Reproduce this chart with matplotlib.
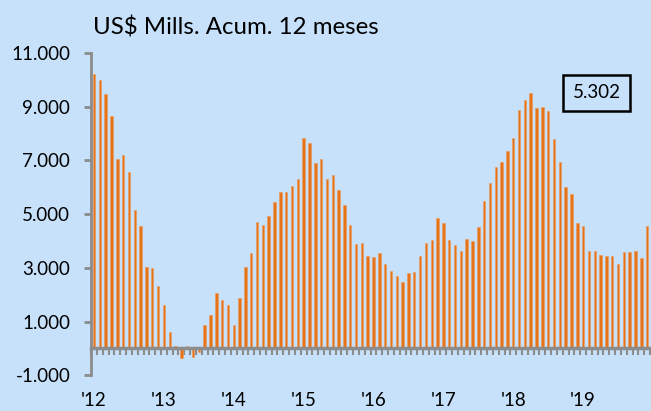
import matplotlib.pyplot as plt
import numpy as np

# monthly values, US$ millions, 12-month rolling sum (Jan 2012 - Dec 2019)
values = [10230, 9980, 9490, 8640, 7050, 7200, 6560, 5140, 4540, 3040, 2990, 2320,
          1630, 620, 100, -360, 100, -330, -150, 870, 1250, 2060, 1790, 1630,
          870, 1890, 3040, 3550, 4690, 4600, 4940, 5460, 5810, 5820, 6060, 6320,
          7850, 7660, 6900, 7070, 6320, 6460, 5900, 5340, 4610, 3900, 3920, 3450,
          3390, 3560, 3130, 2880, 2710, 2480, 2790, 2860, 3450, 3940, 4040, 4870,
          4680, 4050, 3860, 3640, 4070, 4000, 4520, 5500, 6150, 6740, 6960, 7360,
          7850, 8890, 9260, 9500, 8950, 8980, 8830, 7810, 6960, 6020, 5760, 4670,
          4570, 3630, 3630, 3460, 3430, 3440, 3130, 3600, 3600, 3610, 3370, 4570]
years = ["'12", "'13", "'14", "'15", "'16", "'17", "'18", "'19"]
yticks = [-1000, 1000, 3000, 5000, 7000, 9000, 11000]
last_label = "5.302"

bg = '#C7E1FB'
orange = '#E5731A'
gray = '#8C8C8C'
plt.rcParams['font.family'] = ['Lato', 'DejaVu Sans']

fig = plt.figure(figsize=(6.51, 4.11), dpi=100, facecolor=bg)
ax = fig.add_axes([0.140, 0.087, 0.860, 0.784], facecolor=bg)

x = np.arange(len(values))
ax.bar(x, values, width=0.42, color=orange, edgecolor='#EE9A55', linewidth=0.4, zorder=2)

ax.set_xlim(-0.4, 95.66)
ax.set_ylim(-1000, 11000)
ax.set_yticks(yticks)
ax.set_yticklabels([f"{v:,}".replace(',', '.') for v in yticks], fontsize=13.5)
ax.tick_params(axis='y', direction='out', length=5, width=2, color=gray, pad=10)

ax.spines['top'].set_visible(False)
ax.spines['right'].set_visible(False)
ax.spines['left'].set_color(gray)
ax.spines['left'].set_linewidth(2)
ax.spines['bottom'].set_position(('data', 0))
ax.spines['bottom'].set_color(gray)
ax.spines['bottom'].set_linewidth(2.5)
ax.spines['bottom'].set_zorder(3)

ax.set_xticks(np.arange(len(values) + 1) - 0.5)
ax.tick_params(axis='x', direction='out', length=5, width=1.5, color=gray, labelbottom=False)

trans = ax.get_xaxis_transform()
for i, yr in enumerate(years):
    ax.text(i * 12, -0.077, yr, transform=trans, ha='center', va='center', fontsize=13.5)

fig.text(0.143, 0.932, 'US$ Mills. Acum. 12 meses', fontsize=17.3, ha='left', va='center')

ax.text(0.903, 0.877, last_label, transform=ax.transAxes, ha='center', va='center',
        fontsize=13.5, bbox=dict(boxstyle='square,pad=0.5', facecolor=bg, edgecolor='black', linewidth=1.8))

fig.savefig('out.png', dpi=100, facecolor=bg)
